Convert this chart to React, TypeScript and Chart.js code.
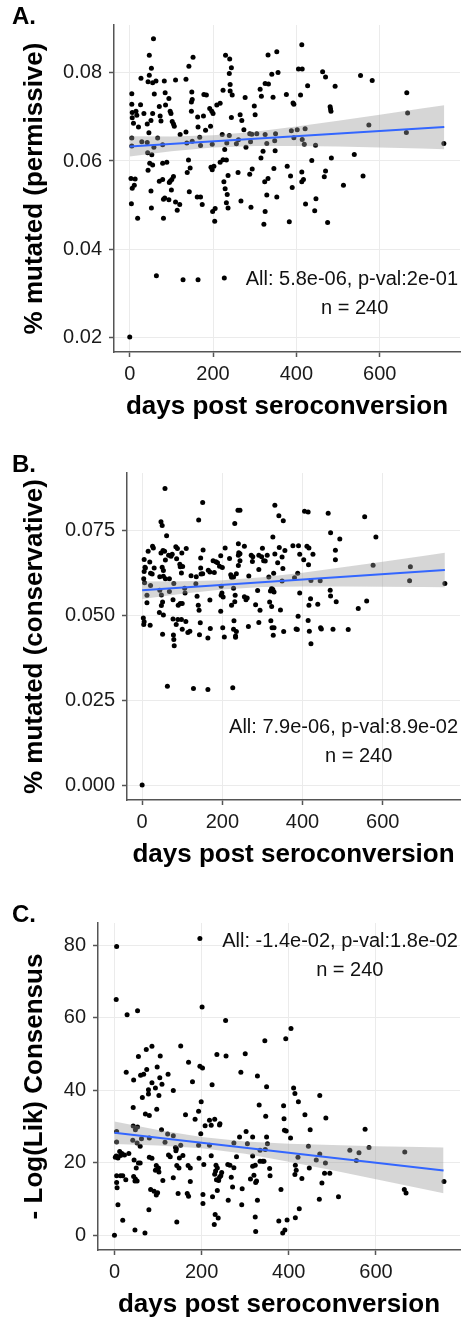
import React, { useEffect, useRef } from "react";
import { Chart, registerables } from "chart.js";

Chart.register(...registerables);

document.body.style.margin = "0";
document.body.style.overflow = "hidden";

const FONT = '"Liberation Sans", Arial, Helvetica, sans-serif';

// shared x axis
const xTicks = [0, 200, 400, 600];
const xRange = [-37.75, 792.75];
const xTitle = "days post seroconversion";
const fitDays = [0, 755];
const bandDays = [0, 100, 200, 300, 400, 500, 600, 700, 755];
const statsRightDay = 788;
const statsCenterDay = 540;

// ---------- Panel A: % mutated (permissive) ----------
const permissivePoints: [number, number][] = [
  [57,0.0878],[47,0.0840],[52,0.0811],[47,0.0795],[27,0.0788],[44,0.0780],[55,0.0778],[63,0.0782],[83,0.0782],[110,0.0784],
  [135,0.0786],[152,0.0836],[142,0.0815],[230,0.0840],[240,0.0832],[244,0.0812],[239,0.0799],[241,0.0774],[241,0.0759],[246,0.0750],
  [224,0.0761],[332,0.0841],[353,0.0848],[341,0.0797],[356,0.0801],[325,0.0776],[333,0.0775],[313,0.0763],[316,0.0747],[344,0.0745],
  [376,0.0751],[5,0.0753],[5,0.0729],[6,0.0710],[6,0.0698],[9,0.0686],[15,0.0713],[17,0.0704],[26,0.0728],[34,0.0708],
  [21,0.0677],[42,0.0684],[51,0.0692],[55,0.0708],[46,0.0664],[59,0.0752],[71,0.0724],[73,0.0702],[75,0.0691],[85,0.0755],
  [86,0.0727],[94,0.0742],[97,0.0713],[99,0.0708],[102,0.0690],[105,0.0684],[107,0.0679],[121,0.0660],[135,0.0666],[148,0.0734],
  [150,0.0740],[149,0.0757],[148,0.0713],[163,0.0700],[177,0.0702],[164,0.0677],[178,0.0751],[184,0.0750],[182,0.0670],[194,0.0679],
  [192,0.0719],[197,0.0713],[200,0.0708],[209,0.0727],[217,0.0731],[244,0.0699],[265,0.0705],[269,0.0692],[277,0.0744],[274,0.0671],
  [299,0.0725],[301,0.0705],[288,0.0662],[279,0.0631],[5,0.0652],[5,0.0634],[29,0.0644],[42,0.0642],[67,0.0652],[79,0.0637],
  [58,0.0631],[43,0.0619],[53,0.0614],[137,0.0641],[150,0.0645],[168,0.0654],[170,0.0635],[198,0.0638],[222,0.0660],[239,0.0658],
  [233,0.0641],[256,0.0639],[261,0.0648],[290,0.0644],[293,0.0661],[305,0.0662],[325,0.0660],[350,0.0662],[329,0.0640],[348,0.0646],
  [228,0.0626],[320,0.0622],[349,0.0623],[315,0.0607],[378,0.0588],[48,0.0595],[55,0.0591],[44,0.0579],[79,0.0595],[89,0.0597],
  [141,0.0602],[145,0.0584],[138,0.0574],[195,0.0586],[198,0.0580],[202,0.0588],[217,0.0597],[224,0.0603],[232,0.0602],[236,0.0567],
  [260,0.0574],[288,0.0570],[294,0.0582],[346,0.0583],[332,0.0560],[324,0.0553],[3,0.0560],[13,0.0559],[11,0.0545],[6,0.0538],
  [51,0.0532],[71,0.0554],[79,0.0558],[97,0.0554],[101,0.0558],[105,0.0565],[95,0.0551],[100,0.0534],[143,0.0530],[162,0.0518],
  [170,0.0518],[174,0.0501],[226,0.0553],[229,0.0537],[234,0.0524],[232,0.0505],[236,0.0493],[267,0.0509],[291,0.0495],[329,0.0523],
  [353,0.0518],[4,0.0503],[52,0.0493],[19,0.0470],[81,0.0513],[84,0.0516],[94,0.0512],[110,0.0507],[120,0.0501],[81,0.0470],
  [114,0.0488],[199,0.0485],[205,0.0492],[204,0.0463],[325,0.0485],[322,0.0456],[64,0.0339],[128,0.0330],[164,0.0330],[227,0.0334],
  [0,0.0200],[413,0.0864],[405,0.0809],[414,0.0809],[463,0.0803],[470,0.0791],[554,0.0794],[582,0.0783],[427,0.0771],[493,0.0770],
  [410,0.0750],[392,0.0732],[394,0.0729],[665,0.0755],[481,0.0723],[482,0.0718],[483,0.0713],[667,0.0709],[574,0.0682],[664,0.0665],
  [388,0.0669],[402,0.0671],[421,0.0673],[394,0.0653],[414,0.0649],[419,0.0638],[446,0.0636],[754,0.0640],[539,0.0615],[437,0.0601],
  [484,0.0607],[386,0.0566],[413,0.0575],[470,0.0577],[560,0.0566],[467,0.0564],[417,0.0558],[413,0.0553],[390,0.0540],[513,0.0545],
  [447,0.0514],[422,0.0502],[444,0.0487],[383,0.0462],[475,0.0460],
];
const permissiveFit = [0.0633, 0.0677];
const permissiveBandLo = [0.0610, 0.06219, 0.06306, 0.06342, 0.06343, 0.06328, 0.06307, 0.06282, 0.06268];
const permissiveBandHi = [0.0656, 0.06557, 0.06586, 0.06666, 0.06781, 0.06912, 0.07049, 0.0719, 0.07268];
const permissiveTicks = [0.02, 0.04, 0.06, 0.08];
const permissiveTickLabels = ["0.02", "0.04", "0.06", "0.08"];
const permissiveRange = [0.0166, 0.0909];
const permissiveStats = ["All: 5.8e-06, p-val:2e-01", "n = 240"];
const permissiveStatsY = [0.0330, 0.0264];

// ---------- Panel B: % mutated (conservative) ----------
const conservativePoints: [number, number][] = [
  [57,0.0875],[151,0.0834],[141,0.0782],[47,0.0777],[50,0.0766],[61,0.0736],[239,0.0811],[244,0.0811],[231,0.0772],[331,0.0826],
  [341,0.0795],[352,0.0780],[405,0.0808],[414,0.0806],[464,0.0802],[555,0.0792],[470,0.0745],[493,0.0726],[583,0.0732],[326,0.0732],
  [576,0.0649],[669,0.0644],[667,0.0603],[755,0.0595],[560,0.0543],[539,0.0521],[514,0.0459],[476,0.0460],[445,0.0464],[447,0.0461],
  [421,0.0417],[417,0.0454],[414,0.0486],[438,0.0534],[416,0.0531],[420,0.0550],[469,0.0575],[470,0.0558],[484,0.0541],[482,0.0665],
  [482,0.0693],[444,0.0603],[421,0.0604],[426,0.0681],[411,0.0705],[416,0.0700],[415,0.0650],[390,0.0706],[393,0.0681],[403,0.0665],
  [376,0.0706],[388,0.0625],[380,0.0612],[393,0.0567],[389,0.0498],[384,0.0461],[387,0.0459],[353,0.0453],[345,0.0517],[331,0.0682],
  [342,0.0701],[349,0.0673],[356,0.0692],[351,0.0639],[338,0.0656],[328,0.0625],[349,0.0602],[323,0.0580],[326,0.0577],[329,0.0570],
  [320,0.0573],[318,0.0540],[323,0.0527],[321,0.0485],[324,0.0464],[329,0.0464],[327,0.0442],[316,0.0614],[291,0.0678],[298,0.0674],
  [307,0.0661],[312,0.0678],[300,0.0699],[303,0.0662],[291,0.0636],[288,0.0574],[283,0.0532],[294,0.0516],[291,0.0480],[272,0.0678],
  [276,0.0674],[275,0.0660],[266,0.0617],[255,0.0556],[262,0.0552],[259,0.0547],[265,0.0468],[240,0.0712],[241,0.0686],[240,0.0678],
  [244,0.0683],[244,0.0662],[255,0.0705],[240,0.0648],[228,0.0614],[235,0.0624],[223,0.0613],[221,0.0621],[228,0.0581],[232,0.0560],
  [231,0.0541],[223,0.0531],[229,0.0485],[228,0.0460],[235,0.0453],[233,0.0440],[233,0.0436],[218,0.0669],[207,0.0700],[196,0.0677],
  [200,0.0642],[197,0.0587],[199,0.0567],[197,0.0560],[202,0.0555],[196,0.0513],[201,0.0464],[205,0.0437],[177,0.0662],[184,0.0659],
  [193,0.0646],[188,0.0656],[180,0.0627],[165,0.0634],[169,0.0629],[169,0.0546],[170,0.0462],[164,0.0434],[146,0.0670],[152,0.0694],
  [146,0.0641],[147,0.0623],[151,0.0624],[135,0.0615],[122,0.0618],[134,0.0594],[137,0.0557],[140,0.0531],[142,0.0516],[145,0.0479],
  [143,0.0444],[119,0.0454],[114,0.0450],[109,0.0483],[110,0.0698],[99,0.0685],[84,0.0703],[88,0.0698],[75,0.0681],[72,0.0675],
  [86,0.0668],[94,0.0652],[101,0.0645],[95,0.0644],[98,0.0626],[106,0.0581],[107,0.0567],[79,0.0595],[95,0.0536],[100,0.0536],
  [90,0.0531],[77,0.0547],[85,0.0474],[77,0.0490],[89,0.0489],[98,0.0489],[100,0.0460],[78,0.0443],[79,0.0430],[80,0.0411],
  [52,0.0692],[56,0.0690],[47,0.0685],[58,0.0664],[66,0.0678],[58,0.0609],[68,0.0609],[53,0.0616],[50,0.0643],[53,0.0633],
  [44,0.0615],[44,0.0575],[48,0.0561],[51,0.0540],[48,0.0530],[43,0.0509],[53,0.0502],[51,0.0445],[68,0.0571],[26,0.0705],
  [28,0.0700],[15,0.0690],[30,0.0641],[25,0.0623],[21,0.0625],[5,0.0666],[7,0.0643],[8,0.0641],[4,0.0609],[19,0.0658],
  [5,0.0630],[6,0.0597],[21,0.0589],[12,0.0560],[12,0.0538],[3,0.0493],[5,0.0482],[4,0.0474],[20,0.0472],[63,0.0292],
  [128,0.0285],[164,0.0282],[226,0.0287],[0,0.0000],
];
const conservativeFit = [0.0575, 0.06346];
const conservativeBandLo = [0.0549, 0.05645, 0.05773, 0.05844, 0.05864, 0.05863, 0.05855, 0.05844, 0.05837];
const conservativeBandHi = [0.0601, 0.06013, 0.06043, 0.0613, 0.06268, 0.06427, 0.06593, 0.06762, 0.06855];
const conservativeTicks = [0, 0.025, 0.05, 0.075];
const conservativeTickLabels = ["0.000", "0.025", "0.050", "0.075"];
const conservativeRange = [-0.0044, 0.0921];
const conservativeStats = ["All: 7.9e-06, p-val:8.9e-02", "n = 240"];
const conservativeStatsY = [0.0169, 0.0083];

// ---------- Panel C: - Log(Lik) Consensus ----------
const loglikPoints: [number, number][] = [
  [196,81.8],[5,79.6],[4,65.0],[29,60.8],[53,61.9],[201,62.9],[255,59.2],[405,57.0],[393,54.2],[345,53.6],
  [152,52.2],[86,52.1],[73,51.2],[55,49.3],[105,49.4],[235,49.8],[256,49.4],[300,50.0],[170,47.7],[196,46.6],
  [202,46.1],[98,46.4],[27,44.9],[74,45.7],[67,44.4],[60,44.1],[44,42.8],[123,44.4],[104,43.4],[109,41.6],
  [86,42.0],[179,42.3],[224,41.5],[290,44.9],[328,43.9],[349,40.9],[411,40.6],[414,39.1],[471,38.5],[422,36.8],
  [94,40.6],[78,40.1],[102,38.5],[135,39.9],[78,38.9],[64,38.0],[199,36.8],[332,35.9],[388,35.7],[389,32.1],
  [97,34.7],[43,35.2],[193,34.2],[163,33.2],[71,33.4],[80,33.0],[185,32.0],[347,32.8],[437,33.2],[485,32.3],
  [218,31.7],[230,32.0],[222,30.3],[241,30.4],[242,30.7],[208,30.2],[108,29.1],[43,30.1],[53,29.8],[48,29.1],
  [5,28.6],[302,28.6],[449,29.1],[575,29.2],[390,28.9],[394,28.7],[198,28.0],[122,27.9],[135,27.4],[287,27.1],
  [317,27.1],[349,27.1],[404,26.8],[80,26.8],[62,26.6],[42,26.2],[5,25.7],[116,25.6],[274,25.4],[305,25.2],
  [52,25.4],[59,24.5],[193,24.8],[218,24.8],[152,24.8],[140,24.2],[142,23.8],[141,23.3],[351,25.2],[445,24.5],
  [584,24.2],[346,23.6],[334,23.4],[540,23.4],[561,22.7],[666,22.9],[471,22.4],[12,23.1],[14,22.0],[4,21.8],
  [17,22.5],[23,22.1],[33,22.5],[2,21.5],[8,21.3],[80,21.5],[86,21.2],[124,22.1],[222,21.9],[194,21.2],
  [128,21.6],[157,22.0],[149,21.3],[280,21.6],[317,21.8],[421,21.5],[463,20.7],[555,20.6],[334,20.4],[340,20.4],
  [343,20.4],[45,20.7],[55,19.9],[59,19.9],[143,19.2],[96,19.2],[101,18.5],[169,19.2],[205,19.5],[233,19.3],
  [236,18.5],[232,17.7],[230,16.8],[260,19.5],[265,19.3],[274,18.6],[317,19.0],[323,19.3],[415,19.3],[447,18.5],
  [484,19.9],[356,18.4],[50,18.5],[148,18.5],[174,18.5],[94,17.9],[102,17.4],[246,17.3],[244,16.4],[241,16.0],
  [268,16.0],[320,16.5],[417,17.9],[414,16.7],[430,15.6],[482,17.1],[494,17.1],[357,16.4],[5,16.4],[14,16.4],
  [19,16.4],[26,15.3],[44,16.2],[48,15.5],[52,14.9],[47,14.9],[111,15.1],[135,15.8],[174,14.8],[234,15.3],
  [239,15.1],[326,14.9],[324,14.5],[312,15.5],[5,14.5],[6,13.1],[476,14.4],[756,14.8],[271,13.3],[293,12.8],
  [83,12.6],[91,12.1],[96,11.1],[99,11.7],[146,11.5],[167,11.5],[170,10.7],[203,11.2],[203,8.7],[236,12.3],
  [225,10.6],[382,12.6],[665,12.6],[669,11.6],[514,10.6],[470,9.9],[261,9.6],[328,9.6],[8,8.4],[292,8.4],
  [79,7.0],[424,7.3],[19,4.1],[143,3.6],[231,5.7],[238,4.7],[229,2.9],[323,5.0],[415,4.8],[377,3.9],
  [396,4.2],[47,1.4],[70,0.6],[324,1.0],[386,0.6],[391,1.4],[0,0.0],
];
const loglikFit = [28.25, 17.85];
const loglikBandLo = [25.15, 24.72, 23.95, 22.42, 20.27, 17.89, 15.43, 12.94, 11.55];
const loglikBandHi = [31.35, 29.02, 27.05, 25.82, 25.21, 24.83, 24.55, 24.28, 24.15];
const loglikTicks = [0, 20, 40, 60, 80];
const loglikTickLabels = ["0", "20", "40", "60", "80"];
const loglikRange = [-4.1, 86.1];
const loglikStats = ["All: -1.4e-02, p-val:1.8e-02", "n = 240"];
const loglikStatsY = [81.0, 72.9];

type PanelCfg = {
  label: string;
  yTitle: string;
  points: [number, number][];
  fit: number[];
  lo: number[];
  hi: number[];
  ticks: number[];
  tickLabels: string[];
  range: number[];
  stats: string[];
  statsY: number[];
  axisWidth: number;
  height: number;
  top: number;
};

const panels: PanelCfg[] = [
  { label: "A.", yTitle: "% mutated (permissive)", points: permissivePoints, fit: permissiveFit, lo: permissiveBandLo, hi: permissiveBandHi,
    ticks: permissiveTicks, tickLabels: permissiveTickLabels, range: permissiveRange, stats: permissiveStats, statsY: permissiveStatsY,
    axisWidth: 114, height: 448, top: 0 },
  { label: "B.", yTitle: "% mutated (conservative)", points: conservativePoints, fit: conservativeFit, lo: conservativeBandLo, hi: conservativeBandHi,
    ticks: conservativeTicks, tickLabels: conservativeTickLabels, range: conservativeRange, stats: conservativeStats, statsY: conservativeStatsY,
    axisWidth: 127, height: 450, top: 448 },
  { label: "C.", yTitle: "- Log(Lik) Consensus", points: loglikPoints, fit: loglikFit, lo: loglikBandLo, hi: loglikBandHi,
    ticks: loglikTicks, tickLabels: loglikTickLabels, range: loglikRange, stats: loglikStats, statsY: loglikStatsY,
    axisWidth: 98, height: 422, top: 898 },
];

const PLOT_BOTTOM = 352;
const X_AXIS_H = 70;

function Panel({ cfg }: { cfg: PanelCfg }) {
  const ref = useRef<HTMLCanvasElement>(null);
  useEffect(() => {
    if (!ref.current) return;
    const textPlugin = {
      id: "panelText",
      afterDraw(chart: any) {
        const { ctx, scales } = chart;
        const x = scales.x;
        const y = scales.y;
        ctx.save();
        ctx.fillStyle = "#000";
        ctx.font = `bold 24px ${FONT}`;
        ctx.textAlign = "left";
        ctx.textBaseline = "alphabetic";
        ctx.fillText(cfg.label, 12, 24);
        ctx.fillStyle = "#111";
        ctx.font = `20px ${FONT}`;
        ctx.textBaseline = "middle";
        ctx.textAlign = "right";
        ctx.fillText(cfg.stats[0], x.getPixelForValue(statsRightDay), y.getPixelForValue(cfg.statsY[0]));
        ctx.textAlign = "center";
        ctx.fillText(cfg.stats[1], x.getPixelForValue(statsCenterDay), y.getPixelForValue(cfg.statsY[1]));
        ctx.restore();
      },
    };
    const tickFont = { family: FONT, size: 20 };
    const titleFont = { family: FONT, size: 26, weight: "bold" as const, lineHeight: 1.2 };
    const chart = new Chart(ref.current, {
      type: "scatter",
      data: {
        datasets: [
          {
            type: "line",
            data: fitDays.map((d, i) => ({ x: d, y: cfg.fit[i] })),
            borderColor: "#3366FF",
            borderWidth: 2,
            pointRadius: 0,
            fill: false,
            order: 0,
          } as any,
          {
            type: "line",
            data: bandDays.map((d, i) => ({ x: d, y: cfg.hi[i] })),
            borderColor: "transparent",
            borderWidth: 0,
            pointRadius: 0,
            backgroundColor: "rgba(153,153,153,0.4)",
            fill: "+1",
            order: 1,
          } as any,
          {
            type: "line",
            data: bandDays.map((d, i) => ({ x: d, y: cfg.lo[i] })),
            borderColor: "transparent",
            borderWidth: 0,
            pointRadius: 0,
            fill: false,
            order: 2,
          } as any,
          {
            type: "scatter",
            data: cfg.points.map(([x, y]) => ({ x, y })),
            pointRadius: 2.5,
            pointBackgroundColor: "#000",
            backgroundColor: "#000",
            borderWidth: 0,
            pointBorderWidth: 0,
            order: 3,
          } as any,
        ],
      },
      options: {
        responsive: false,
        maintainAspectRatio: false,
        animation: false,
        events: [],
        layout: { padding: { top: 25, left: 0, right: 0, bottom: cfg.height - PLOT_BOTTOM - X_AXIS_H } },
        plugins: { legend: { display: false }, tooltip: { enabled: false }, title: { display: false } },
        scales: {
          x: {
            type: "linear",
            min: xRange[0],
            max: xRange[1],
            afterBuildTicks: (s: any) => {
              s.ticks = xTicks.map((v) => ({ value: v }));
            },
            afterFit: (s: any) => {
              s.height = X_AXIS_H;
            },
            ticks: {
              font: tickFont,
              color: "#1a1a1a",
              padding: 5,
              maxRotation: 0,
              autoSkip: false,
              callback: (v: any) => String(v),
            },
            grid: { color: "#ebebeb", lineWidth: 1, tickColor: "#555", tickLength: 5, tickWidth: 1.5, drawTicks: true },
            border: { display: true, color: "#555", width: 1.5 },
            title: { display: true, text: xTitle, font: titleFont, color: "#000", padding: { top: 0, bottom: 0 } },
          },
          y: {
            type: "linear",
            min: cfg.range[0],
            max: cfg.range[1],
            afterBuildTicks: (s: any) => {
              s.ticks = cfg.ticks.map((v) => ({ value: v }));
            },
            afterFit: (s: any) => {
              s.width = cfg.axisWidth;
            },
            ticks: {
              font: tickFont,
              color: "#1a1a1a",
              padding: 7,
              autoSkip: false,
              callback: (v: any) => {
                const i = cfg.ticks.indexOf(v);
                return i >= 0 ? cfg.tickLabels[i] : "";
              },
            },
            grid: { color: "#ebebeb", lineWidth: 1, tickColor: "#555", tickLength: 5, tickWidth: 1.5, drawTicks: true },
            border: { display: true, color: "#555", width: 1.5 },
            title: { display: true, text: cfg.yTitle, font: titleFont, color: "#000", padding: { top: 19, bottom: 0 } },
          },
        },
      } as any,
      plugins: [textPlugin],
    });
    return () => chart.destroy();
  }, [cfg]);
  return (
    <canvas
      ref={ref}
      width={464}
      height={cfg.height}
      style={{ position: "absolute", left: 0, top: cfg.top, width: 464, height: cfg.height, display: "block" }}
    />
  );
}

export default function App() {
  return (
    <div style={{ position: "relative", width: 464, height: 1320, background: "#fff", overflow: "hidden" }}>
      {panels.map((p) => (
        <Panel key={p.label} cfg={p} />
      ))}
    </div>
  );
}
